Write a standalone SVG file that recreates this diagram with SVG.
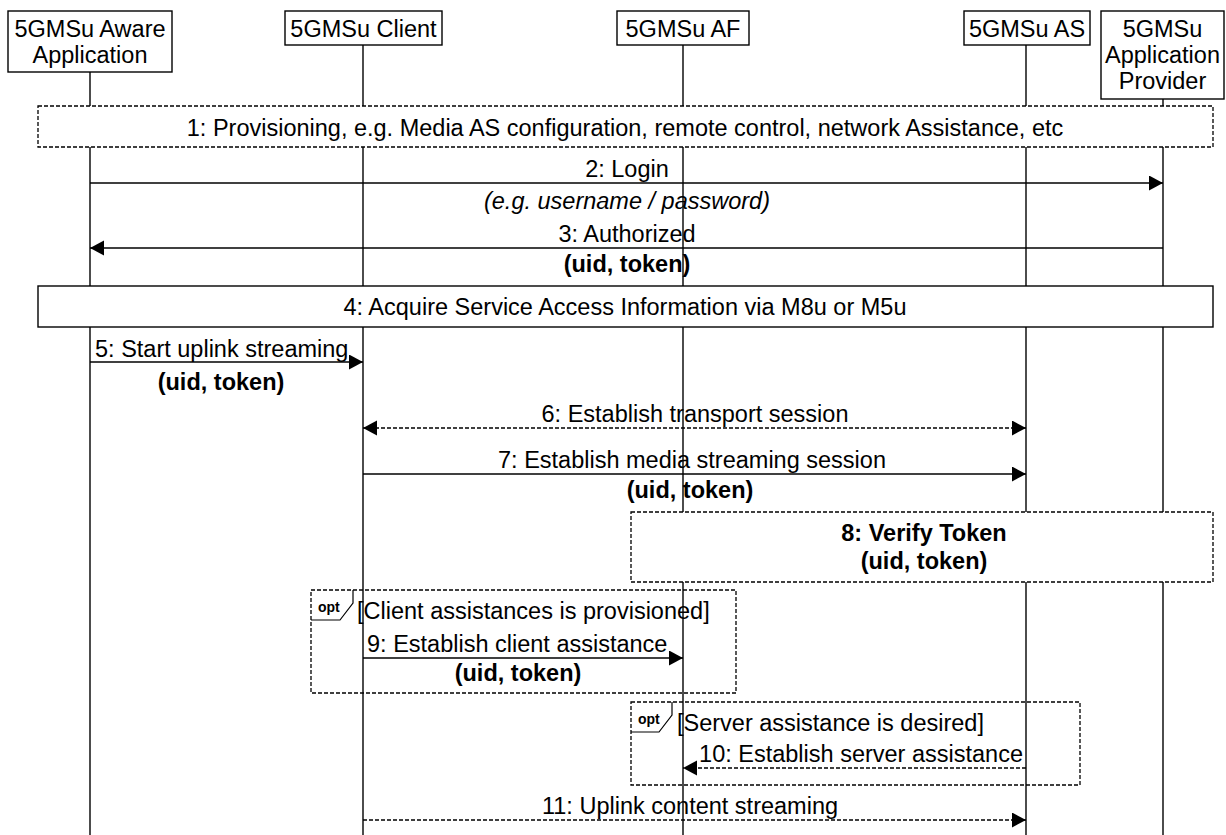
<svg xmlns="http://www.w3.org/2000/svg" width="1226" height="835" viewBox="0 0 1226 835">
<style>
text{font-family:"Liberation Sans",Arial,sans-serif;font-size:23.5px;fill:#000}
.b{font-weight:bold}
.i{font-style:italic}
.m{text-anchor:middle}
.e{text-anchor:end}
.opt{font-size:14px;font-weight:bold}
.box{fill:#fff;stroke:#000;stroke-width:1.4}
.dbox{fill:#fff;stroke:#000;stroke-width:1.3;stroke-dasharray:4 2}
.frame{fill:none;stroke:#000;stroke-width:1.3;stroke-dasharray:4 2}
.life{stroke:#000;stroke-width:1.4;fill:none}
.msg{stroke:#000;stroke-width:1.4;fill:none;marker-end:url(#ah)}
.dash{stroke-dasharray:4 2}
</style>
<defs>
<marker id="ah" markerUnits="userSpaceOnUse" markerWidth="15" markerHeight="17" refX="14" refY="7.5" orient="auto-start-reverse">
<path d="M0,0 L14,7.5 L0,15 z" fill="#000"/>
</marker>
</defs>

<g id="lifelines">
<line class="life" x1="90" y1="72" x2="90" y2="835"/>
<line class="life" x1="363" y1="45" x2="363" y2="835"/>
<line class="life" x1="683" y1="45" x2="683" y2="835"/>
<line class="life" x1="1026" y1="45" x2="1026" y2="835"/>
<line class="life" x1="1163" y1="99" x2="1163" y2="835"/>
</g>

<g id="node-aware">
<rect class="box" x="8" y="11" width="164" height="61"/>
<text class="m" x="90" y="37">5GMSu Aware</text>
<text class="m" x="90" y="63">Application</text>
</g>
<g id="node-client">
<rect class="box" x="285" y="11" width="157" height="34"/>
<text class="m" x="363.5" y="37">5GMSu Client</text>
</g>
<g id="node-af">
<rect class="box" x="617" y="11" width="132" height="34"/>
<text class="m" x="683" y="37">5GMSu AF</text>
</g>
<g id="node-as">
<rect class="box" x="964" y="11" width="126" height="34"/>
<text class="m" x="1027" y="37">5GMSu AS</text>
</g>
<g id="node-provider">
<rect class="box" x="1101" y="11" width="123" height="88"/>
<text class="m" x="1162.5" y="37">5GMSu</text>
<text class="m" x="1162.5" y="63">Application</text>
<text class="m" x="1162.5" y="89">Provider</text>
</g>

<g id="step1">
<rect class="dbox" x="38" y="106" width="1175" height="41"/>
<text class="m" x="625" y="136">1: Provisioning, e.g. Media AS configuration, remote control, network Assistance, etc</text>
</g>

<g id="step4">
<rect class="box" x="38" y="286" width="1175" height="41"/>
<text class="m" x="625" y="315">4: Acquire Service Access Information via M8u or M5u</text>
</g>

<g id="step8">
<rect class="dbox" x="631" y="512" width="582" height="70"/>
<text class="m b" x="924" y="541">8: Verify Token</text>
<text class="m b" x="924" y="569">(uid, token)</text>
</g>

<g id="opt1">
<rect class="frame" x="311" y="590" width="425" height="103"/>
<path class="life" style="stroke-width:1.2" d="M311,620 L340,620 L353,603 L353,590"/>
<text class="opt" x="318" y="612">opt</text>
<text x="357" y="619">[Client assistances is provisioned]</text>
</g>

<g id="opt2">
<rect class="frame" x="631" y="702" width="449" height="83"/>
<path class="life" style="stroke-width:1.2" d="M631,732 L659,732 L672,715 L672,702"/>
<text class="opt" x="638" y="724">opt</text>
<text x="677" y="731">[Server assistance is desired]</text>
</g>

<g id="connectors">
<line class="msg" x1="90" y1="183" x2="1163" y2="183"/>
<line class="msg" x1="1163" y1="248" x2="90" y2="248"/>
<line class="msg" x1="90" y1="362" x2="363" y2="362"/>
<line class="msg dash" x1="363" y1="428" x2="1026" y2="428" style="marker-start:url(#ah)"/>
<line class="msg" x1="363" y1="474" x2="1026" y2="474"/>
<line class="msg" x1="363" y1="658" x2="683" y2="658"/>
<line class="msg dash" x1="1026" y1="768" x2="683" y2="768"/>
<line class="msg dash" x1="363" y1="820" x2="1026" y2="820"/>
</g>

<g id="labels">
<text class="m" x="627" y="177">2: Login</text>
<text class="m i" x="627" y="209">(e.g. username / password)</text>
<text class="m" x="627" y="242">3: Authorized</text>
<text class="m b" x="627" y="272">(uid, token)</text>
<text x="95" y="357">5: Start uplink streaming</text>
<text class="m b" x="221" y="390">(uid, token)</text>
<text class="m" x="695" y="422">6: Establish transport session</text>
<text class="m" x="692" y="468">7: Establish media streaming session</text>
<text class="m b" x="690" y="498">(uid, token)</text>
<text x="367" y="652">9: Establish client assistance</text>
<text class="m b" x="518" y="681">(uid, token)</text>
<text class="e" x="1023" y="762">10: Establish server assistance</text>
<text class="m" x="690" y="814">11: Uplink content streaming</text>
</g>
</svg>
